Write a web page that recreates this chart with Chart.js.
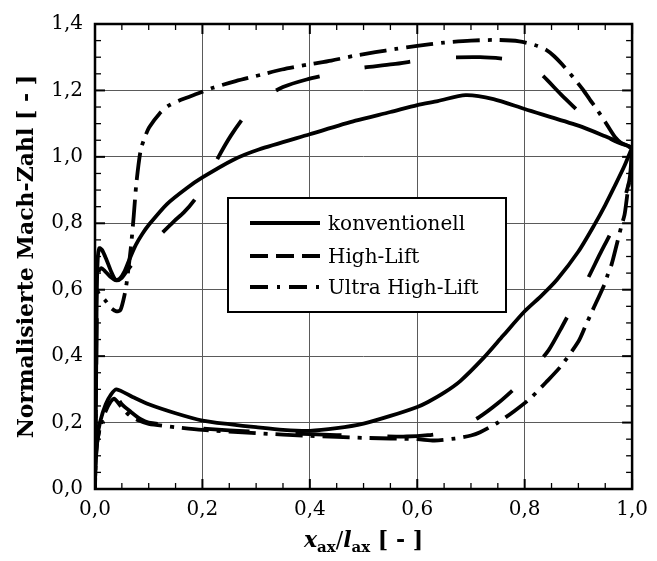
<!DOCTYPE html>
<html>
<head>
<meta charset="utf-8">
<script src="https://cdn.jsdelivr.net/npm/chart.js@4.4.0/dist/chart.umd.min.js"></script>
<style>
  html, body { margin: 0; padding: 0; background: #fff; }
  #wrap { width: 657px; height: 561px; position: relative; }
</style>
</head>
<body>
<div id="wrap"><canvas id="chart"></canvas></div>
<script>
// Data. Each profile is one closed loop:
// trailing edge -> pressure side -> leading edge -> suction side -> trailing edge
const seriesNames = ['konventionell', 'High-Lift', 'Ultra High-Lift'];
const xTickLabels = ['0,0', '0,2', '0,4', '0,6', '0,8', '1,0'];
const yTickLabels = ['0,0', '0,2', '0,4', '0,6', '0,8', '1,0', '1,2', '1,4'];

// konventionell
const konvPressX = [1.0, 0.985, 0.967, 0.95, 0.93, 0.9, 0.86, 0.83, 0.8, 0.76, 0.723, 0.68, 0.65, 0.62, 0.6, 0.55, 0.5, 0.45, 0.4, 0.35, 0.3, 0.25, 0.2, 0.15, 0.1, 0.07, 0.04, 0.03, 0.02, 0.01, 0.004, 0.001, 0];
const konvPressY = [1.028, 0.97, 0.91, 0.855, 0.796, 0.715, 0.63, 0.58, 0.535, 0.462, 0.394, 0.325, 0.29, 0.262, 0.247, 0.22, 0.197, 0.183, 0.175, 0.178, 0.186, 0.195, 0.206, 0.228, 0.255, 0.277, 0.30, 0.285, 0.255, 0.205, 0.15, 0.08, 0];
const konvSuctX = [0.002, 0.003, 0.005, 0.008, 0.013, 0.021, 0.03, 0.038, 0.046, 0.055, 0.065, 0.076, 0.088, 0.1, 0.134, 0.17, 0.2, 0.256, 0.305, 0.4, 0.485, 0.55, 0.6, 0.638, 0.69, 0.742, 0.8, 0.9, 0.95, 1.0];
const konvSuctY = [0.3, 0.55, 0.69, 0.725, 0.72, 0.692, 0.655, 0.63, 0.633, 0.655, 0.695, 0.735, 0.768, 0.795, 0.858, 0.905, 0.938, 0.99, 1.022, 1.068, 1.109, 1.135, 1.156, 1.168, 1.186, 1.174, 1.144, 1.094, 1.062, 1.028];

// High-Lift
const hlPressX = [1.0, 0.995, 0.977, 0.96, 0.94, 0.918, 0.894, 0.87, 0.845, 0.815, 0.784, 0.75, 0.714, 0.681, 0.65, 0.62, 0.58, 0.5, 0.4, 0.3, 0.2, 0.15, 0.1, 0.085, 0.067, 0.05, 0.038, 0.03, 0.02, 0.01, 0.004, 0.001, 0];
const hlPressY = [1.028, 0.93, 0.831, 0.77, 0.707, 0.635, 0.563, 0.49, 0.419, 0.36, 0.307, 0.258, 0.215, 0.186, 0.17, 0.162, 0.158, 0.16, 0.165, 0.172, 0.182, 0.19, 0.2, 0.21, 0.232, 0.255, 0.282, 0.268, 0.24, 0.19, 0.14, 0.07, 0];
const hlSuctX = [0.002, 0.004, 0.007, 0.012, 0.018, 0.028, 0.04, 0.05, 0.06, 0.07, 0.082, 0.1, 0.12, 0.147, 0.165, 0.185, 0.205, 0.23, 0.253, 0.28, 0.314, 0.35, 0.394, 0.44, 0.473, 0.555, 0.635, 0.717, 0.77, 0.8, 0.83, 0.867, 0.9, 0.931, 0.965, 1.0];
const hlSuctY = [0.3, 0.58, 0.655, 0.665, 0.657, 0.64, 0.628, 0.636, 0.658, 0.678, 0.7, 0.73, 0.763, 0.806, 0.832, 0.87, 0.92, 1.0, 1.064, 1.125, 1.177, 1.21, 1.233, 1.25, 1.263, 1.279, 1.297, 1.3, 1.294, 1.283, 1.25, 1.189, 1.137, 1.084, 1.05, 1.028];

// Ultra High-Lift
const uhlPressX = [1.0, 0.998, 0.993, 0.989, 0.986, 0.98, 0.972, 0.962, 0.955, 0.949, 0.925, 0.913, 0.9, 0.867, 0.839, 0.81, 0.781, 0.75, 0.717, 0.7, 0.67, 0.632, 0.6, 0.5, 0.4, 0.3, 0.2, 0.15, 0.1, 0.082, 0.064, 0.05, 0.036, 0.028, 0.02, 0.01, 0.004, 0.001, 0];
const uhlPressY = [1.028, 0.96, 0.91, 0.86, 0.826, 0.791, 0.74, 0.677, 0.647, 0.618, 0.533, 0.49, 0.444, 0.369, 0.32, 0.272, 0.235, 0.2, 0.171, 0.161, 0.152, 0.146, 0.15, 0.154, 0.16, 0.168, 0.178, 0.186, 0.196, 0.206, 0.222, 0.245, 0.272, 0.26, 0.235, 0.19, 0.14, 0.07, 0];
const uhlSuctX = [0.002, 0.003, 0.008, 0.018, 0.03, 0.04, 0.047, 0.053, 0.058, 0.062, 0.067, 0.072, 0.077, 0.085, 0.093, 0.101, 0.12, 0.137, 0.159, 0.19, 0.22, 0.262, 0.311, 0.348, 0.397, 0.44, 0.485, 0.522, 0.56, 0.6, 0.65, 0.7, 0.75, 0.79, 0.82, 0.84, 0.855, 0.87, 0.89, 0.91, 0.922, 0.934, 0.95, 0.968, 0.985, 1.0];
const uhlSuctY = [0.4, 0.6, 0.585, 0.57, 0.545, 0.535, 0.538, 0.57, 0.61, 0.66, 0.73, 0.82, 0.92, 1.02, 1.06, 1.089, 1.13, 1.154, 1.171, 1.19, 1.208, 1.228, 1.248, 1.263, 1.278, 1.29, 1.305, 1.315, 1.325, 1.334, 1.344, 1.35, 1.352, 1.348, 1.336, 1.322, 1.303, 1.278, 1.24, 1.199, 1.171, 1.144, 1.105, 1.06, 1.035, 1.028];

const FONT = '"DejaVu Serif", "Liberation Serif", serif';

function loop(px, py, sx, sy) {
  const pts = px.map((x, i) => ({ x, y: py[i] }));
  return pts.concat(sx.map((x, i) => ({ x, y: sy[i] })));
}

// dash patterns: plot / legend sample
const dashes = [[], [46, 46], [27, 8, 4, 8]];
const legendDashes = [[], [18, 8], [18, 9, 3, 9]];

const isMajor = v => Math.round(v * 100) % 20 === 0;

const extras = {
  id: 'extras',
  afterDraw(chart) {
    const { ctx, chartArea: a, scales: { x, y } } = chart;
    ctx.save();
    ctx.strokeStyle = '#000';

    function seg(x1, y1, x2, y2) {
      ctx.beginPath(); ctx.moveTo(x1, y1); ctx.lineTo(x2, y2); ctx.stroke();
    }

    // inward ticks on all four sides
    x.ticks.forEach(t => {
      const p = x.getPixelForValue(t.value);
      const len = isMajor(t.value) ? 10 : 6;
      ctx.lineWidth = isMajor(t.value) ? 2 : 1.3;
      seg(p, a.bottom, p, a.bottom - len);
      seg(p, a.top, p, a.top + len);
    });
    y.ticks.forEach(t => {
      const p = y.getPixelForValue(t.value);
      const len = isMajor(t.value) ? 10 : 6;
      ctx.lineWidth = isMajor(t.value) ? 2 : 1.3;
      seg(a.left, p, a.left + len, p);
      seg(a.right, p, a.right - len, p);
    });

    // frame
    ctx.lineWidth = 2.5;
    ctx.strokeRect(a.left, a.top, a.right - a.left, a.bottom - a.top);

    // legend box
    const bx = 228, by = 198, bw = 278, bh = 114;
    ctx.fillStyle = '#fff';
    ctx.fillRect(bx, by, bw, bh);
    ctx.lineWidth = 2;
    ctx.strokeRect(bx, by, bw, bh);
    const rows = [223, 256, 287];
    chart.data.datasets.forEach((ds, i) => {
      ctx.lineWidth = 4;
      ctx.lineCap = 'butt';
      ctx.setLineDash(legendDashes[i]);
      seg(250, rows[i], 320, rows[i]);
      ctx.setLineDash([]);
      ctx.fillStyle = '#000';
      ctx.font = '20px ' + FONT;
      ctx.textBaseline = 'alphabetic';
      ctx.textAlign = 'left';
      ctx.fillText(ds.label, 328, rows[i] + 7);
    });

    // x axis title with subscripts
    const big = 22, small = 15;
    const parts = [
      { t: 'x', f: 'italic bold ' + big + 'px ' + FONT, dy: 0 },
      { t: 'ax', f: 'bold ' + small + 'px ' + FONT, dy: 5 },
      { t: '/', f: big + 'px ' + FONT, dy: 0 },
      { t: 'l', f: 'italic bold ' + big + 'px ' + FONT, dy: 0 },
      { t: 'ax', f: 'bold ' + small + 'px ' + FONT, dy: 5 },
      { t: ' [ - ]', f: 'bold ' + big + 'px ' + FONT, dy: 0 }
    ];
    let total = 0;
    parts.forEach(p => { ctx.font = p.f; p.w = ctx.measureText(p.t).width; total += p.w; });
    let cx = (a.left + a.right) / 2 - total / 2;
    const base = 547;
    ctx.fillStyle = '#000';
    ctx.textAlign = 'left';
    ctx.textBaseline = 'alphabetic';
    parts.forEach(p => { ctx.font = p.f; ctx.fillText(p.t, cx, base + p.dy); cx += p.w; });

    ctx.restore();
  }
};

const datasets = [
  loop(konvPressX, konvPressY, konvSuctX, konvSuctY),
  loop(hlPressX, hlPressY, hlSuctX, hlSuctY),
  loop(uhlPressX, uhlPressY, uhlSuctX, uhlSuctY)
].map((data, i) => ({
  label: seriesNames[i],
  data,
  showLine: true,
  borderColor: '#000',
  borderWidth: 3.8,
  borderDash: dashes[i],
  borderCapStyle: 'butt',
  borderJoinStyle: 'round',
  pointRadius: 0,
  tension: 0.25,
  fill: false
}));

new Chart(document.getElementById('chart'), {
  type: 'scatter',
  data: { datasets },
  options: {
    responsive: true,
    maintainAspectRatio: false,
    animation: false,
    layout: { padding: { left: 0, right: 16, top: 20, bottom: 0 } },
    plugins: { legend: { display: false }, tooltip: { enabled: false } },
    scales: {
      x: {
        type: 'linear', min: 0, max: 1,
        afterFit: s => { s.height = 72; },
        border: { display: false },
        grid: { color: c => isMajor(c.tick.value) ? '#5a5a5a' : 'rgba(0,0,0,0)', lineWidth: 1, drawTicks: false },
        ticks: {
          stepSize: 0.05, autoSkip: false, maxRotation: 0, padding: 9, color: '#000',
          font: { family: FONT, size: 20 },
          callback: v => isMajor(v) ? xTickLabels[Math.round(v * 5)] : ''
        }
      },
      y: {
        type: 'linear', min: 0, max: 1.4,
        afterFit: s => { s.width = 95; },
        border: { display: false },
        grid: { color: c => isMajor(c.tick.value) ? '#5a5a5a' : 'rgba(0,0,0,0)', lineWidth: 1, drawTicks: false },
        ticks: {
          stepSize: 0.05, autoSkip: false, padding: 12, color: '#000',
          font: { family: FONT, size: 20 },
          callback: v => isMajor(v) ? yTickLabels[Math.round(v * 5)] : ''
        },
        title: {
          display: true, text: 'Normalisierte Mach-Zahl [ - ]', color: '#000',
          font: { family: FONT, size: 22, weight: 'bold' },
          padding: { top: 14, bottom: 0 }
        }
      }
    }
  },
  plugins: [extras]
});
</script>
</body>
</html>
